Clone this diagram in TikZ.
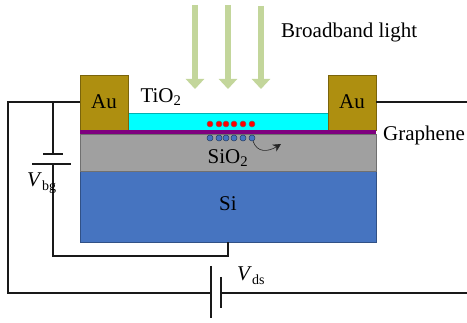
\documentclass[tikz,border=0pt]{standalone}
\usepackage{fontspec}
\setmainfont{Liberation Serif}
\usetikzlibrary{arrows.meta}
\definecolor{aucolor}{HTML}{AE8F10}
\definecolor{siocolor}{HTML}{A0A0A0}
\definecolor{sicolor}{HTML}{4674C0}
\definecolor{grcolor}{HTML}{7F007F}
\definecolor{tiocolor}{HTML}{00FFFF}
\definecolor{lightcolor}{HTML}{C3D69B}
\tikzset{
    layer/.style={shape=rectangle,inner sep=0pt,draw=#1!70!black,line width=0.4pt,fill=#1},
    lbl/.style={inner sep=0pt,font=\fontsize{21}{21}\selectfont},
    wire/.style={line width=2pt,black!90},
    plate/.style={line width=2pt,black!90},
    beam/.style={line width=6.5pt,lightcolor,-{Triangle[width=18pt,length=10pt]}},
    elec/.style={shape=circle,inner sep=0pt,minimum size=6pt,fill=red,draw=black!60,line width=0.5pt},
    hole/.style={shape=circle,inner sep=0pt,minimum size=6pt,fill=sicolor,draw=sicolor!50!black,line width=0.5pt}
}
\begin{document}
\begin{tikzpicture}[x=1pt,y=-1pt]
    \useasboundingbox (0,0) rectangle (467,323);
    % light
    \foreach \i/\x/\y in {1/195/5,2/228/5,3/261/6} {
        \coordinate (L\i) at (\x,\y);
        \coordinate (M\i) at (\x,89);
        \draw[beam] (L\i) -- (M\i);
    }
    \node[lbl,anchor=west] (broadband) at (281,32) {Broadband light};
    % layers
    \node[layer=sicolor,minimum width=296pt,minimum height=71pt] (Si) at (228,206.5) {};
    \node[layer=siocolor,minimum width=296pt,minimum height=37pt] (SiO) at (228,152.5) {};
    \node[layer=tiocolor,minimum width=200pt,minimum height=17pt] (TiO) at (228,121.5) {};
    \node[layer=aucolor,minimum width=48pt,minimum height=55pt] (AuL) at (104,102.5) {};
    \node[layer=aucolor,minimum width=48pt,minimum height=55pt] (AuR) at (352,102.5) {};
    \node[shape=rectangle,inner sep=0pt,fill=grcolor,minimum width=296pt,minimum height=4pt] (Gr) at (228,132) {};
    \node[lbl] (AuLtext) at (104,102) {Au};
    \node[lbl] (AuRtext) at (352,102) {Au};
    \node[lbl] (TiOtext) at (161,97) {TiO\textsubscript{2}};
    \node[lbl] (SiOtext) at (228,158) {SiO\textsubscript{2}};
    \node[lbl] (Sitext) at (228,204) {Si};
    \node[lbl,anchor=west] (Grtext) at (383,135) {Graphene};
    % carriers
    \foreach \i/\x in {1/210,2/219,3/226,4/234,5/243,6/252} {
        \node[elec] (e\i) at (\x,124) {};
        \node[hole] (h\i) at (\x,138) {};
    }
    \coordinate (tip) at (281,144);
    \draw[black!85,line width=0.6pt,-{Stealth[width=8pt,length=8pt]}] (h6) .. controls (257,153) and (268,152) .. (tip);
    % back gate circuit
    \coordinate (J) at (53,102);
    \coordinate (P1) at (53,154);
    \coordinate (P1a) at (43,154);
    \coordinate (P1b) at (63,154);
    \coordinate (P2) at (53,164);
    \coordinate (P2a) at (32,164);
    \coordinate (P2b) at (71,164);
    \coordinate (B1) at (53,256);
    \coordinate (B2) at (228,256);
    \draw[wire] (J) -- (P1);
    \draw[plate] (P1a) -- (P1b);
    \draw[plate] (P2a) -- (P2b);
    \draw[wire] (P2) -- (B1) -- (B2) -- (Si.south -| B2);
    \node[lbl,anchor=west] (Vbg) at (27,183) {\textit{V}\fontsize{14}{14}\selectfont\raisebox{-4pt}{bg}};
    % source drain circuit
    \coordinate (C1) at (8,102);
    \coordinate (C2) at (8,293);
    \coordinate (C3) at (211,293);
    \coordinate (C3a) at (211,266);
    \coordinate (C3b) at (211,318);
    \coordinate (C4) at (221,293);
    \coordinate (C4a) at (221,277);
    \coordinate (C4b) at (221,308);
    \coordinate (R1) at (467,293);
    \coordinate (R2) at (467,102);
    \draw[wire] (AuL.west |- C1) -- (C1) -- (C2) -- (C3);
    \draw[plate] (C3a) -- (C3b);
    \draw[plate] (C4a) -- (C4b);
    \draw[wire] (C4) -- (R1);
    \draw[wire] (AuR.east |- R2) -- (R2);
    \node[lbl,anchor=west] (Vds) at (237,276) {\textit{V}\fontsize{14}{14}\selectfont\raisebox{-4pt}{ds}};
\end{tikzpicture}
\end{document}
